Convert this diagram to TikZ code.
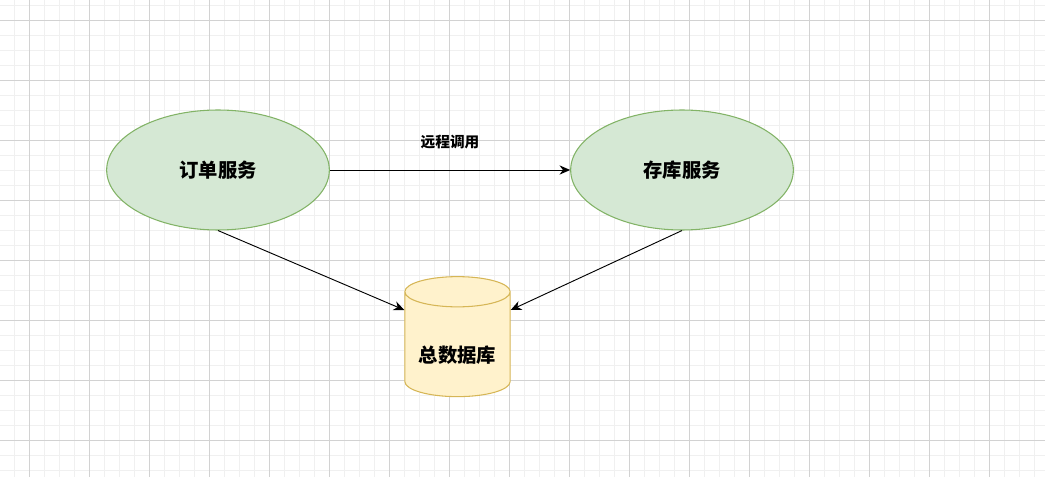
\documentclass[tikz,border=0pt]{standalone}
\usepackage{fontspec}
\newfontfamily\cjk{Noto Sans CJK SC}
\usetikzlibrary{shapes.geometric,arrows.meta}
\definecolor{svcfill}{HTML}{D5E8D4}
\definecolor{svcline}{HTML}{82B366}
\definecolor{dbfill}{HTML}{FFF2CC}
\definecolor{dbline}{HTML}{D6B656}
\tikzset{
  service/.style={ellipse, draw=svcline, fill=svcfill, line width=0.8pt,
    minimum width=167pt, minimum height=90pt, font=\cjk\bfseries\fontsize{14.5pt}{16pt}\selectfont},
  store/.style={cylinder, shape border rotate=90, aspect=3.4, draw=dbline, fill=dbfill,
    line width=0.8pt, minimum width=79pt, minimum height=90pt},
  link/.style={-{Stealth[length=8pt,width=7pt]}, line width=0.7pt}
}
\begin{document}
\begin{tikzpicture}[x=0.75pt, y=-0.75pt]
\useasboundingbox (0,0) rectangle (1045,477);
%grid
	\foreach \x in {14.5,29.5,...,1045}{
		\draw[gray!12, line width=0.5pt] (\x,0) -- (\x,477);
	}
	\foreach \y in {5,20,...,477}{
		\draw[gray!12, line width=0.5pt] (0,\y) -- (1045,\y);
	}
	\foreach \x in {29.5,89.5,...,1045}{
		\draw[gray!35, line width=0.5pt] (\x,0) -- (\x,477);
	}
	\foreach \y in {20,80,...,477}{
		\draw[gray!35, line width=0.5pt] (0,\y) -- (1045,\y);
	}

%nodes
	\node[service] (order) at (218,170) {订单服务};
	\node[service] (stock) at (682,170) {存库服务};
	\node[store] (db) at (457.5,347.5) {};
	\node[font=\cjk\bfseries\fontsize{14.5pt}{16pt}\selectfont] (dbtext) at (457.5,355) {总数据库};

%arrows
	\draw[link] (order) -- node[above=12pt, font=\cjk\bfseries\fontsize{11pt}{13pt}\selectfont] (call) {远程调用} (stock);
	\draw[link] (order.south) -- (db.west |- 0,310);
	\draw[link] (stock.south) -- (db.east |- 0,310);
\end{tikzpicture}
\end{document}
